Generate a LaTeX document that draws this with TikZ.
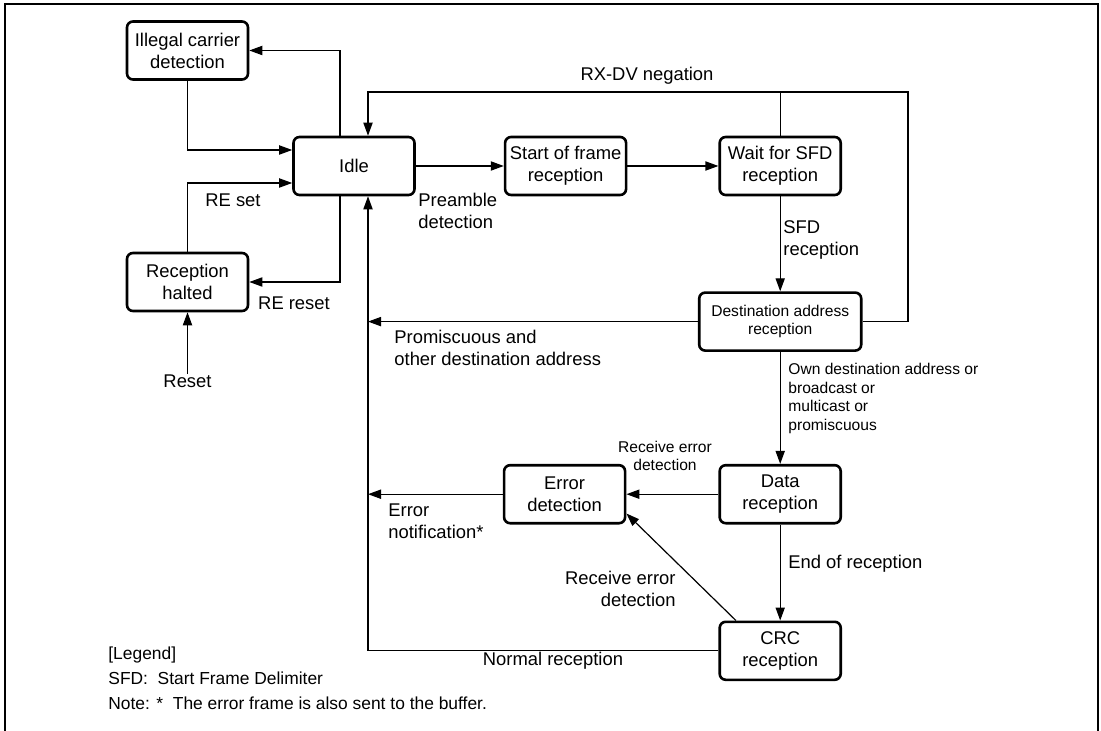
\documentclass[tikz,border=0pt]{standalone}
\usepackage{fontspec}
\setmainfont{Liberation Sans}
\usetikzlibrary{arrows.meta,positioning}
\newcommand\lblfont{\fontsize{9.2pt}{11pt}\selectfont}
\newcommand\lblsmall{\fontsize{7.8pt}{9.2pt}\selectfont}
\newcommand\legfont{\fontsize{8.7pt}{10.5pt}\selectfont}

\begin{document}
\begin{tikzpicture}[
    x=0.5pt, y=-0.5pt,
    >={Triangle[length=6.5pt,width=4.6pt]},
    state/.style={draw, line width=1.3pt, rounded corners=3pt, minimum width=60.5pt,
                  minimum height=29pt, inner xsep=2pt, align=center, font=\lblfont},
    link/.style={->, line width=0.6pt},
    lbl/.style={inner sep=0pt, align=left, font=\lblfont},
    small/.style={inner sep=0pt, align=left, font=\lblsmall},
  ]
  \useasboundingbox (0,0) rectangle (1101,731);
  \draw[line width=1.35pt] (5,731) -- (5,4) -- (1098,4) -- (1098,731);

  % states
  \node[state] (illegal) at (187.5,50.5) {Illegal carrier\\detection};
  \node[state] (idle) at (354,166) {Idle};
  \node[state] (halted) at (187.5,282) {Reception\\halted};
  \node[state, right=44pt of idle] (sof) {Start of frame\\reception};
  \node[state, right=45.5pt of sof] (waitsfd) {Wait for SFD\\reception};
  \node[state, below=47.5pt of waitsfd, minimum width=81pt, font=\lblsmall] (dest)
    {Destination address\\reception};
  \node[state, below=56pt of dest] (data) {Data\\reception};
  \node[state, below=48pt of data] (crc) {CRC\\reception};
  \node[state, left=46pt of data] (err) {Error\\detection};
  \node[lbl, align=center] (reset) at (187.5,381) {Reset};

  \coordinate (rxl) at (368,92);
  \coordinate (rxr) at (908,92);

  % left loop
  \draw[link] (illegal.south) |- ([yshift=8pt]idle.west);
  \draw[link] ([xshift=-7pt]idle.north) |- (illegal.east);
  \draw[link] (halted.north) |- ([yshift=-8.5pt]idle.west);
  \draw[link] ([xshift=-7pt]idle.south) |- (halted.east);
  \draw[link] (reset) -- (halted);
  \node[lbl] at (233,200) {RE set};
  \node[lbl] at (294,303) {RE reset};

  % main path
  \draw[link] (idle) -- (sof);
  \draw[link] (sof) -- (waitsfd);
  \draw[link] (waitsfd) -- (dest);
  \draw[link] (dest) -- (data);
  \draw[link] (data) -- (crc);
  \draw[link] (data) -- (err);
  \draw[link] ([xshift=8.75pt]crc.north west) -- ([yshift=5.5pt]err.south east);

  % back to idle
  \draw[link] (dest.east) -| (rxr) -- (rxl) -- (rxl |- idle.north);
  \draw[line width=0.6pt] (waitsfd.north) -- (waitsfd.north |- rxr);
  \draw[link] (dest.west) -- (dest.west -| rxl);
  \draw[link] (err.west) -- (err.west -| rxl);
  \draw[link] (crc.west) -- (crc.west -| rxl) -- (rxl |- idle.south);

  % labels
  \node[lbl] at (647,76) {RX-DV negation};
  \node[lbl, anchor=west] at (418,211) {Preamble\\detection};
  \node[lbl, anchor=west] at (783,240) {SFD\\reception};
  \node[lbl, anchor=west] at (394,348) {Promiscuous and\\other destination address};
  \node[small, anchor=west] at (788,398.5)
    {Own destination address or\\broadcast or\\multicast or\\promiscuous};
  \node[small, align=center] at (665,456) {Receive error\\detection};
  \node[lbl, anchor=west] at (388,521.5) {Error\\notification*};
  \node[lbl, anchor=west] at (788,564) {End of reception};
  \node[lbl, anchor=east, align=right] at (676,588.5) {Receive error\\detection};
  \node[lbl] at (553,661) {Normal reception};

  % legend
  \node[lbl, font=\legfont, anchor=west] at (108,655) {[Legend]};
  \node[lbl, font=\legfont, anchor=west] at (108,678) {SFD:\ \ Start Frame Delimiter};
  \node[lbl, font=\legfont, anchor=west] at (108,703)
    {Note: *\ \ The error frame is also sent to the buffer.};
\end{tikzpicture}
\end{document}
